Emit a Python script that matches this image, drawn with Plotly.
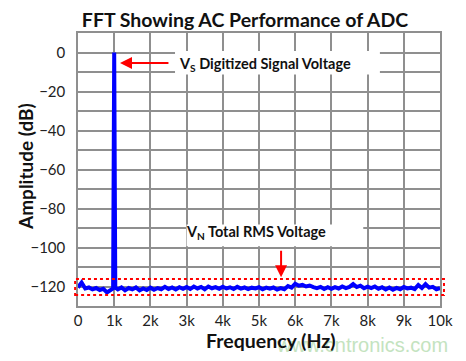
import plotly.graph_objects as go

# ---------------- data ----------------
freq_hz = [0, 100, 200, 300, 400, 500, 600, 700, 800, 900, 970, 1000, 1030,
           1100, 1200, 1300, 1400, 1500, 1600, 1700, 1800, 1900, 2000,
           2100, 2200, 2300, 2400, 2500, 2600, 2700, 2800, 2900, 3000,
           3100, 3200, 3300, 3400, 3500, 3600, 3700, 3800, 3900, 4000,
           4100, 4200, 4300, 4400, 4500, 4600, 4700, 4800, 4900, 5000,
           5100, 5200, 5300, 5400, 5500, 5600, 5700, 5800, 5900, 6000,
           6100, 6200, 6300, 6400, 6500, 6600, 6700, 6800, 6900, 7000,
           7100, 7200, 7300, 7400, 7500, 7600, 7700, 7800, 7900, 8000,
           8100, 8200, 8300, 8400, 8500, 8600, 8700, 8800, 8900, 9000,
           9100, 9200, 9300, 9400, 9500, 9600, 9700, 9800, 9900, 10000]

amplitude_db = [-120.5, -118.0, -121.0, -120.5, -121.5, -120.8, -121.8, -121.2, -123.0, -121.5, -121.0, 0.0, -120.5,
                -121.5, -120.5, -122.0, -120.8, -121.5, -120.5, -122.0, -121.0, -121.8, -120.6,
                -121.7, -120.8, -121.4, -120.2, -121.3, -120.5, -121.5, -120.4, -121.2, -120.3,
                -121.3, -120.0, -121.0, -120.2, -121.4, -120.0, -120.9, -120.3, -121.2, -120.1,
                -121.0, -120.4, -121.3, -120.2, -121.1, -120.5, -121.3, -120.6, -121.0, -120.4,
                -121.4, -120.6, -121.1, -120.5, -121.6, -120.8, -121.4, -119.8, -120.6, -118.6,
                -119.6, -119.2, -120.0, -119.5, -120.3, -120.8, -120.2, -121.3, -120.4, -121.2,
                -120.3, -121.0, -120.0, -120.8, -120.2, -118.8, -120.3, -119.6, -120.9, -120.1,
                -120.8, -120.0, -121.2, -120.4, -121.5, -120.5, -121.6, -120.7, -121.4, -120.3,
                -121.0, -120.6, -121.3, -119.2, -120.8, -118.8, -120.6, -120.2, -121.4, -120.8]

x_tick_vals = [0, 1000, 2000, 3000, 4000, 5000, 6000, 7000, 8000, 9000, 10000]
x_tick_text = ["0", "1k", "2k", "3k", "4k", "5k", "6k", "7k", "8k", "9k", "10k"]
y_tick_vals = [0, -20, -40, -60, -80, -100, -120]

title_text = "FFT Showing AC Performance of ADC"
x_title = "Frequency (Hz)"
y_title = "Amplitude (dB)"
signal_label = "V<sub>S</sub> Digitized Signal Voltage"
noise_label = "V<sub>N</sub> Total RMS Voltage"
watermark = "www.cntronics.com"

# ---------------- figure ----------------
FONT = "Lato"
GRID = "#8f8f8f"

fig = go.Figure()
fig.add_trace(go.Scatter(x=freq_hz, y=amplitude_db, mode="lines",
                         line=dict(color="#0000ff", width=4),
                         hoverinfo="skip", showlegend=False))

fig.update_layout(
    width=466, height=361,
    margin=dict(l=78, r=26, t=33, b=55),
    paper_bgcolor="white", plot_bgcolor="white",
    font=dict(family=FONT, color="#222222", size=15),
    title=dict(text="<b>" + title_text + "</b>", x=245/466, xanchor="center",
               xref="container", yref="container", y=1 - 20/361, yanchor="middle",
               font=dict(family=FONT, size=19.5, color="#111111")),
    showlegend=False,
)

fig.update_xaxes(range=[0, 10000], tickvals=x_tick_vals, ticktext=x_tick_text,
                 showgrid=True, gridcolor=GRID, gridwidth=1.5,
                 showline=True, linecolor=GRID, linewidth=1.5, mirror=True,
                 zeroline=False, ticks="", tickfont=dict(size=15, family=FONT, color="#222222"))
fig.update_yaxes(range=[-130, 10], tickvals=y_tick_vals,
                 showgrid=True, gridcolor=GRID, gridwidth=1.5,
                 minor=dict(dtick=10, tick0=0, showgrid=True, gridcolor=GRID, gridwidth=1.5),
                 showline=True, linecolor=GRID, linewidth=1.5, mirror=True,
                 zeroline=False, ticks="", ticklabelstandoff=8,
                 tickfont=dict(size=15, family=FONT, color="#222222"))

# white label boxes covering the grid
fig.add_shape(type="rect", xref="x", yref="y", x0=2680, x1=8340, y0=-11.3, y1=0.8,
              fillcolor="white", line=dict(width=0), layer="above")
fig.add_shape(type="rect", xref="x", yref="y", x0=3000, x1=7880, y0=-99.4, y1=-88.2,
              fillcolor="white", line=dict(width=0), layer="above")

# red dashed noise box (paper coords so it is not clipped)
fig.add_shape(type="rect", xref="paper", yref="paper", x0=-0.008, x1=1.011,
              y0=0.040, y1=0.099, line=dict(color="#ff0000", width=2, dash="dot"),
              fillcolor="rgba(0,0,0,0)", layer="above")

# arrows
fig.add_annotation(x=1160, y=-5.4, ax=2540, ay=-5.4, xref="x", yref="y",
                   axref="x", ayref="y", text="", showarrow=True,
                   arrowhead=2, arrowsize=1.2, arrowwidth=2, arrowcolor="#ff0000")
fig.add_annotation(x=5610, y=-115.3, ax=5610, ay=-100.9, xref="x", yref="y",
                   axref="x", ayref="y", text="", showarrow=True,
                   arrowhead=2, arrowsize=1.2, arrowwidth=2, arrowcolor="#ff0000")

# labels
fig.add_annotation(x=2735, y=-5.9, xref="x", yref="y", xanchor="left", yanchor="middle",
                   text="<b>" + signal_label + "</b>", showarrow=False,
                   font=dict(family=FONT, size=14.5, color="#111111"))
fig.add_annotation(x=4930, y=-92.2, xref="x", yref="y", xanchor="center", yanchor="middle",
                   text="<b>" + noise_label + "</b>", showarrow=False,
                   font=dict(family=FONT, size=14.5, color="#111111"))

# watermark (paper coords relative to plot area)
fig.add_annotation(x=(362 - 78) / 362, y=(306 - 345) / 273, xref="paper", yref="paper",
                   xanchor="center", yanchor="middle", text=watermark, showarrow=False,
                   font=dict(family="Liberation Sans", size=20, color="#c4e3bf"))

# axis titles
fig.add_annotation(x=(271 - 78) / 362, y=(306 - 340) / 273, xref="paper", yref="paper",
                   xanchor="center", yanchor="middle", text="<b>" + x_title + "</b>",
                   showarrow=False, font=dict(family=FONT, size=19.5, color="#111111"))
fig.add_annotation(x=(25 - 78) / 362, y=(306 - 167) / 273, xref="paper", yref="paper",
                   xanchor="center", yanchor="middle", text="<b>" + y_title + "</b>",
                   textangle=-90, showarrow=False,
                   font=dict(family=FONT, size=19, color="#111111"))

fig.write_html("out.html", config={"displayModeBar": False},
               post_script="document.body.style.margin='0';document.body.style.padding='0';")
